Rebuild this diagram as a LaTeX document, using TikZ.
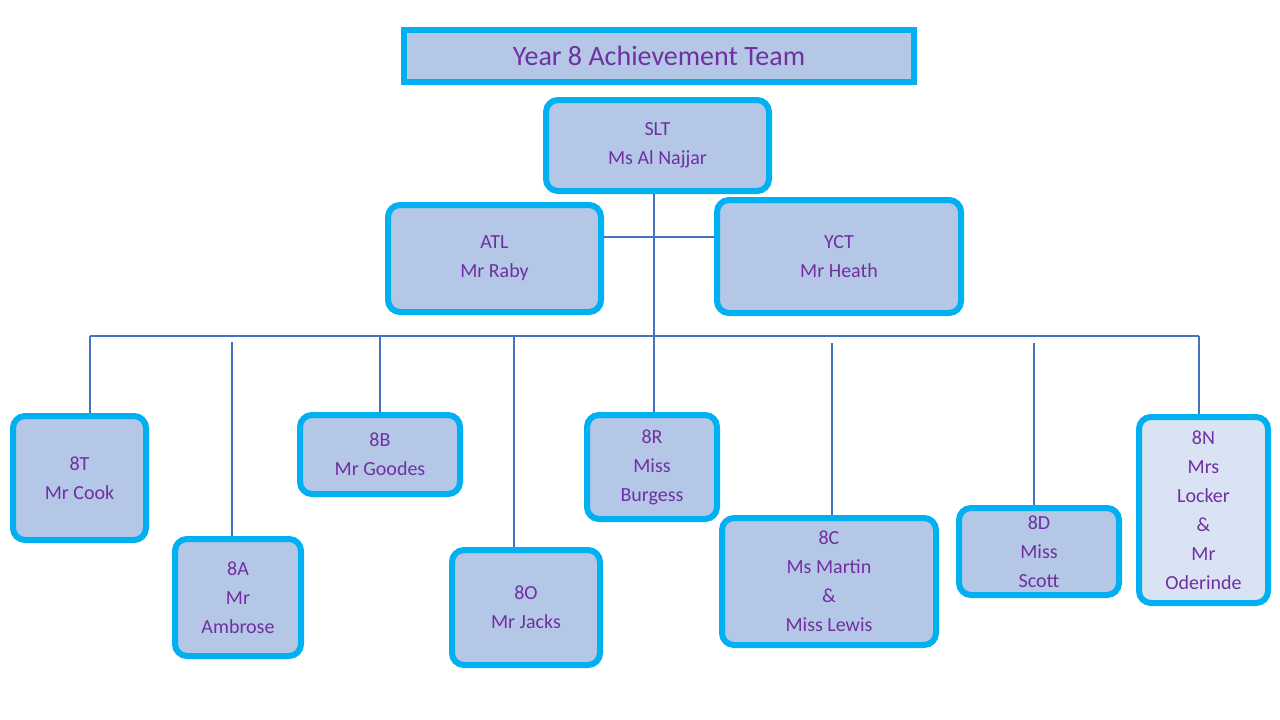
\documentclass[tikz,border=0pt]{standalone}
\usepackage{fontspec}
\setmainfont{Carlito}
\definecolor{boxfill}{HTML}{B4C7E7}
\definecolor{boxfilllight}{HTML}{DAE3F3}
\definecolor{boxline}{HTML}{00B0F0}
\definecolor{txt}{HTML}{7030A0}
\definecolor{conn}{HTML}{4472C4}
\begin{document}
\begin{tikzpicture}[x=1pt,y=-1pt,
  bx/.style={draw=boxline,line width=6pt,fill=boxfill,rounded corners=12pt,text=txt,font=\fontsize{20}{29}\selectfont,align=center,inner sep=0pt},
  ln/.style={draw=conn,line width=2pt}]
\useasboundingbox (0,0) rectangle (1280,720);
\newcommand{\bbox}[6]{\node[bx,#6,minimum width=#3-#1,minimum height=#4-#2] (#5) at ({(#1+#3)/2},{(#2+#4)/2})}
\node[draw=boxline,line width=6pt,fill=boxfill,text=txt,font=\fontsize{28}{32}\selectfont,minimum width=510,minimum height=52] (title) at (659,56) {Year 8 Achievement Team};
\bbox{546}{100}{769}{191}{slt}{}{SLT\\Ms Al Najjar};
\bbox{388}{205}{601}{312}{atl}{}{ATL\\Mr Raby};
\bbox{717}{200}{961}{313}{yct}{}{YCT\\Mr Heath};
\bbox{13}{416}{146}{540}{t}{}{8T\\Mr Cook};
\bbox{175}{539}{301}{656}{a}{}{8A\\Mr\\Ambrose};
\bbox{300}{415}{460}{494}{b}{}{8B\\Mr Goodes};
\bbox{452}{550}{600}{665}{o}{}{8O\\Mr Jacks};
\bbox{587}{415}{717}{519}{r}{}{8R\\Miss\\Burgess};
\bbox{722}{518}{936}{645}{c}{}{8C\\Ms Martin\\\&\\Miss Lewis};
\bbox{959}{508}{1119}{595}{d}{}{8D\\Miss\\Scott};
\bbox{1139}{417}{1268}{603}{n}{fill=boxfilllight}{8N\\Mrs\\Locker\\\&\\Mr\\Oderinde};
\coordinate (hub) at (654,336);
\coordinate (bl) at (90,336);
\coordinate (br) at (1199,336);
\coordinate (pa) at (232,342);
\coordinate (pb) at (380,336);
\coordinate (po) at (514,336);
\coordinate (pc) at (832,343);
\coordinate (pd) at (1034,343);
\begin{scope}[on background layer/.style={}]
\draw[ln] (slt.south -| hub) -- (hub);
\draw[ln] (atl.east |- 0,237) -- (yct.west |- 0,237);
\draw[ln] (bl) -- (br);
\draw[ln] (bl) -- (t.north -| bl);
\draw[ln] (pa) -- (a.north -| pa);
\draw[ln] (pb) -- (b.north -| pb);
\draw[ln] (po) -- (o.north -| po);
\draw[ln] (hub) -- (r.north -| hub);
\draw[ln] (pc) -- (c.north -| pc);
\draw[ln] (pd) -- (d.north -| pd);
\draw[ln] (br) -- (n.north -| br);
\end{scope}
\end{tikzpicture}
\end{document}
